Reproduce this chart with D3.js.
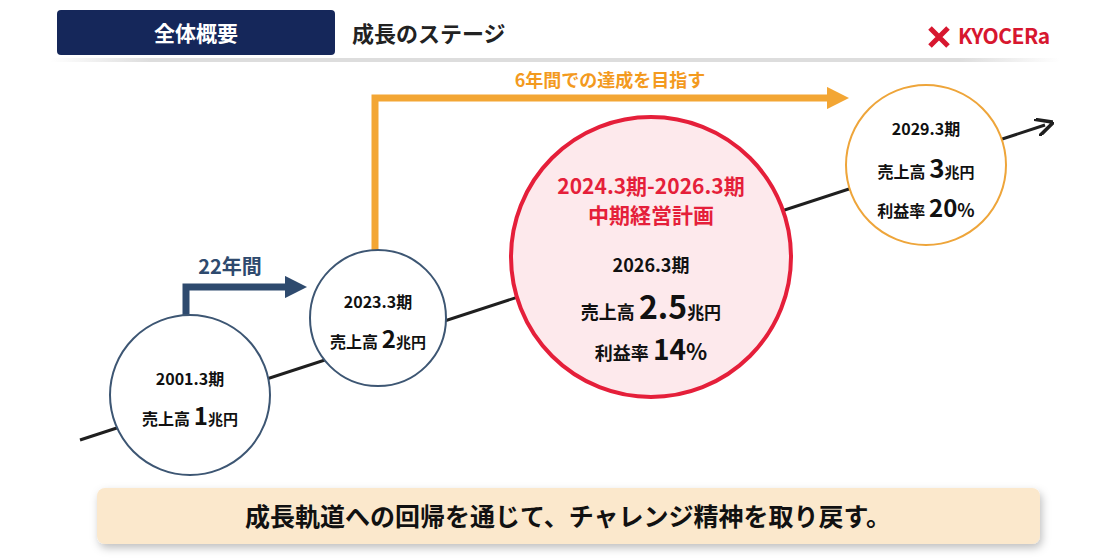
<!DOCTYPE html><html><head><meta charset="utf-8">
<script src="https://cdn.jsdelivr.net/npm/d3@7"></script>
<style>body{margin:0;background:#fff}text{font-family:"Noto Sans CJK JP","Noto Sans",sans-serif;font-weight:700}</style></head><body>
<svg id="c" width="1116" height="558"></svg>
<script>
const periods=["2001.3期","2023.3期","2026.3期","2029.3期"];
const revenue=[1,2,2.5,3];
const margin=[null,null,14,20];
const spans=["22年間","6年間での達成を目指す"];
const svg=d3.select("#c");
const defs=svg.append("defs");
const f=defs.append("filter").attr("id","sh").attr("x","-5%").attr("y","-20%").attr("width","110%").attr("height","150%");
f.append("feDropShadow").attr("dx",2).attr("dy",4).attr("stdDeviation",4).attr("flood-color","#000").attr("flood-opacity",0.25);
const g=defs.append("linearGradient").attr("id","hl");
g.append("stop").attr("offset","0").attr("stop-color","#fff");g.append("stop").attr("offset","0.1").attr("stop-color","#ddd");
g.append("stop").attr("offset","0.9").attr("stop-color","#ddd");g.append("stop").attr("offset","1").attr("stop-color","#fff");
[["ab","#1f1f1f"],["an","#2e4a6e"],["ao","#f3a634"]].forEach(([id,c])=>defs.append("marker").attr("id",id).attr("viewBox","0 0 10 10").attr("refX",5).attr("refY",5).attr("markerWidth",id=="ab"?6:3.2).attr("markerHeight",id=="ab"?6:3.2).attr("orient","auto").append("path").attr("d",id=="ab"?"M0,0L10,5L0,10":"M0,0L10,5L0,10Z").attr("fill",id=="ab"?"none":c).attr("stroke",c).attr("stroke-width",id=="ab"?2:0));
// header
svg.append("rect").attr("x",57).attr("y",10).attr("width",278).attr("height",45).attr("rx",4).attr("fill","#15275a");
svg.append("text").attr("x",196).attr("y",41).attr("text-anchor","middle").attr("fill","#fff").attr("font-size",21).text("全体概要");
svg.append("text").attr("x",352).attr("y",42).attr("font-size",22).attr("fill","#222").text("成長のステージ");
svg.append("text").attr("x",958).attr("y",44).attr("font-size",21).attr("fill","#d7172f").attr("font-family","Liberation Sans").attr("letter-spacing",-0.5).text("KYOCERa");
svg.append("path").attr("d","M930,28 l9,9 -9,9 M948,28 l-9,9 9,9").attr("stroke","#d7172f").attr("stroke-width",5).attr("fill","none");
svg.append("rect").attr("x",50).attr("y",58).attr("width",1010).attr("height",4).attr("fill","url(#hl)");
// trend line
const x=d3.scaleLinear().domain([0,1]).range([80,1045]), y=d3.scaleLinear().domain([0,1]).range([440,125]);
svg.append("line").attr("x1",x(0)).attr("y1",y(0)).attr("x2",x(1)).attr("y2",y(1)).attr("stroke","#1f1f1f").attr("stroke-width",3).attr("marker-end","url(#ab)");
// arrows
svg.append("path").attr("d","M186,342V287H296").attr("fill","none").attr("stroke","#2e4a6e").attr("stroke-width",7).attr("marker-end","url(#an)");
svg.append("text").attr("x",230).attr("y",274).attr("text-anchor","middle").attr("fill","#2e4a6e").attr("font-size",20).text(spans[0]);
svg.append("path").attr("d","M375,258V98H838").attr("fill","none").attr("stroke","#f3a634").attr("stroke-width",7).attr("marker-end","url(#ao)");
svg.append("text").attr("x",610).attr("y",87).attr("text-anchor","middle").attr("fill","#f39a1e").attr("font-size",18).text(spans[1]);
// circles
const cx=d3.scaleOrdinal().domain(periods).range([190,378,651,926]);
const cy=d3.scaleOrdinal().domain(periods).range([395,318,257,165]);
const cr=d3.scaleOrdinal().domain(periods).range([80,68,140,80]);
const st=d3.scaleOrdinal().domain(periods).range(["#3d5673","#3d5673","#e51f3a","#eea53a"]);
const fl=d3.scaleOrdinal().domain(periods).range(["#fff","#fff","#fde9ec","#fff"]);
svg.selectAll("circle.s").data(periods).join("circle").attr("cx",cx).attr("cy",cy).attr("r",cr).attr("fill",fl).attr("stroke",st).attr("stroke-width",(d,i)=>i==2?4:2);
function line(t,xx,yy,parts){const e=svg.append("text").attr("x",xx).attr("y",yy).attr("text-anchor","middle").attr("fill","#111");parts.forEach(p=>e.append("tspan").attr("font-size",p[1]).text(p[0]));return e;}
periods.forEach((p,i)=>{
  const X=cx(p),Y=cy(p);
  if(i==2){
    svg.append("text").attr("x",X).attr("y",Y-63).attr("text-anchor","middle").attr("fill","#e51f3a").attr("font-size",21).text("2024.3期-2026.3期");
    svg.append("text").attr("x",X).attr("y",Y-34).attr("text-anchor","middle").attr("fill","#e51f3a").attr("font-size",21).text("中期経営計画");
    line(0,X,Y+15,[[p,18]]);
    line(0,X,Y+62,[["売上高 ",18],[String(revenue[i]),32],["兆円",17]]);
    line(0,X,Y+103,[["利益率 ",18],[margin[i],28],["%",22]]);
  }else if(i==3){
    line(0,X,Y-30,[[p,16]]);
    line(0,X,Y+13,[["売上高 ",16],[String(revenue[i]),26],["兆円",15]]);
    line(0,X,Y+52,[["利益率 ",16],[String(margin[i]),24],["%",18]]);
  }else{
    line(0,X,Y-10,[[p,16]]);
    line(0,X,Y+30,[["売上高 ",16],[String(revenue[i]),24],["兆円",15]]);
  }
});
// banner
svg.append("rect").attr("x",97).attr("y",488).attr("width",943).attr("height",56).attr("rx",8).attr("fill","#fbe8cc").attr("filter","url(#sh)");
svg.append("text").attr("x",568).attr("y",526).attr("text-anchor","middle").attr("font-size",25).attr("fill","#111").text("成長軌道への回帰を通じて、チャレンジ精神を取り戻す。");
</script></body></html>
